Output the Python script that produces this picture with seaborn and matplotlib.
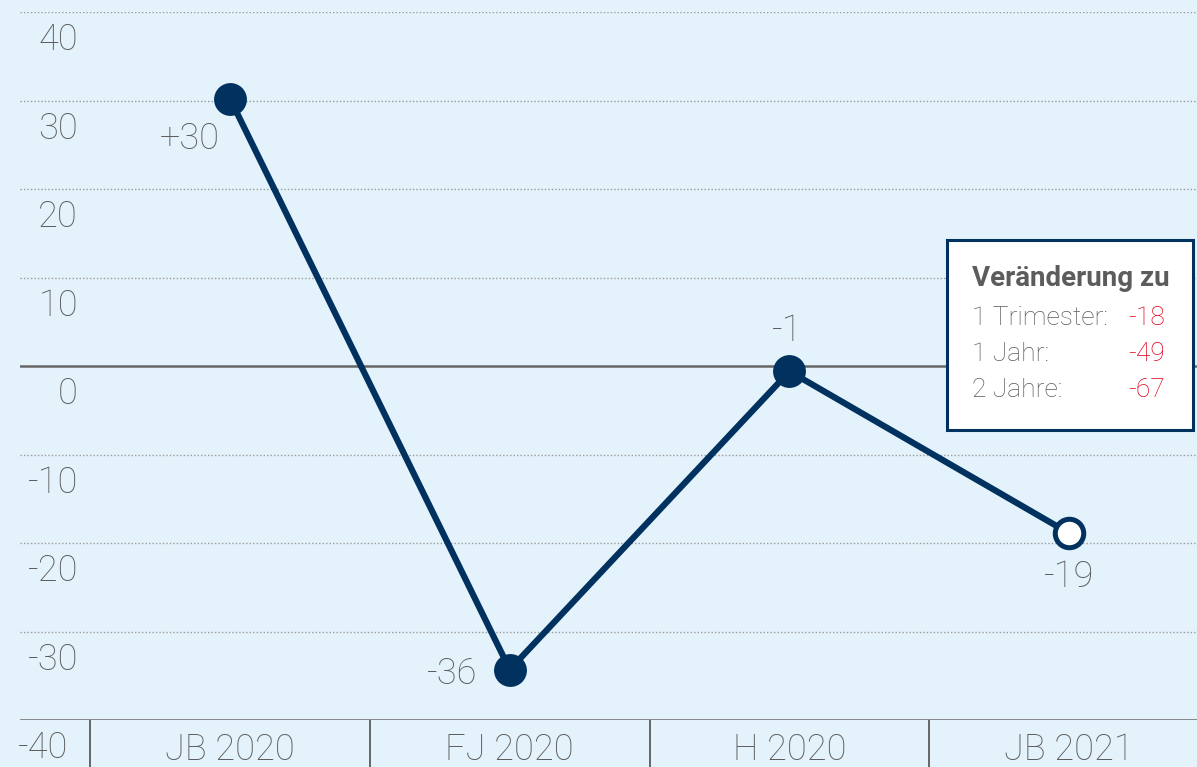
import numpy as np
import pandas as pd
import matplotlib
matplotlib.use("Agg")
import matplotlib.pyplot as plt
from matplotlib.patches import Rectangle
import matplotlib.transforms as mtransforms
import seaborn as sns

# data (y positions as drawn in the picture, labels as printed)
categories = ["JB 2020", "FJ 2020", "H 2020", "JB 2021"]
values = [30.2, -34.3, -0.6, -18.9]
point_labels = ["+30", "-36", "-1", "-19"]
y_ticks = [40, 30, 20, 10, 0, -10, -20, -30, -40]
change_title = "Veränderung zu"
change_labels = ["1 Trimester:", "1 Jahr:", "2 Jahre:"]
change_values = ["-18", "-49", "-67"]

BG = "#E4F3FB"
NAVY = "#00315F"
GREY = "#5C5C5C"
RED = "#E2001A"

sns.set_theme(style="white")
plt.rcParams["font.family"] = ["Roboto", "DejaVu Sans"]
plt.rcParams["font.weight"] = "light"

df = pd.DataFrame({"x": np.arange(len(categories)), "value": values})

fig = plt.figure(figsize=(11.97, 7.67), dpi=100, facecolor=BG)
ax = fig.add_axes([20 / 1197, 47 / 767, 1177 / 1197, 708 / 767])
ax.set_facecolor(BG)
ax.set_xlim(-0.751, 3.457)
ax.set_ylim(-40, 40)
for s in ax.spines.values():
    s.set_visible(False)

# grid
for t in y_ticks:
    if t == 0 or t == -40:
        ax.axhline(t, color="#666666", lw=1.8, zorder=1)
    else:
        ax.axhline(t, color="#999999", lw=1.0, ls=(0, (1, 1.5)), zorder=1)

# y labels sit below their gridline
ylab_tr = mtransforms.blended_transform_factory(fig.transFigure, ax.transData)
for t in y_ticks:
    xr = 68 / 1197 if t == -40 else 78 / 1197
    ax.text(xr, t - 3.2, f"{t}", transform=ylab_tr, ha="right", va="center",
            fontsize=26, color=GREY)

ax.set_yticks([])
ax.set_xticks(df["x"])
ax.set_xticklabels(categories)
ax.set_xticks(np.arange(-0.5, 3.0, 1.0), minor=True)
ax.tick_params(axis="x", which="major", length=0, pad=9, labelsize=26, labelcolor=GREY)
ax.tick_params(axis="x", which="minor", length=34, width=1.4, color="#666666",
               direction="out", bottom=True)

# line + markers
sns.lineplot(data=df, x="x", y="value", ax=ax, color=NAVY, lw=4.5, zorder=3)
sns.scatterplot(data=df.iloc[:-1], x="x", y="value", ax=ax, color=NAVY, s=560,
                edgecolor=NAVY, linewidth=0, zorder=4)
sns.scatterplot(data=df.iloc[-1:], x="x", y="value", ax=ax, color="white", s=420,
                edgecolor=NAVY, linewidth=3.6, zorder=4)
ax.set_xlabel("")
ax.set_ylabel("")

# value labels
offsets = [(-40, -40), (-58, -4), (-2, 40), (0, -44)]
for xi, v, lab, (dx, dy) in zip(df["x"], values, point_labels, offsets):
    ax.annotate(lab, (xi, v), xytext=(dx, dy), textcoords="offset pixels",
                ha="center", va="center", fontsize=26, color=GREY, zorder=5)

# change box
ax.add_patch(Rectangle((0.7876, 0.410), 0.209, 0.268, transform=ax.transAxes,
                       facecolor="white", edgecolor=NAVY, lw=2.2, zorder=6,
                       clip_on=False))
ax.text(0.809, 0.624, change_title, transform=ax.transAxes, ha="left", va="center",
        fontsize=20, fontweight="bold", color=GREY, zorder=7)
for i, (lab, val) in enumerate(zip(change_labels, change_values)):
    yy = 0.568 - i * 0.051
    ax.text(0.809, yy, lab, transform=ax.transAxes, ha="left", va="center",
            fontsize=19, color=GREY, zorder=7)
    ax.text(0.973, yy, val, transform=ax.transAxes, ha="right", va="center",
            fontsize=19, color=RED, zorder=7)

fig.savefig("out.png", dpi=100, facecolor=BG)
